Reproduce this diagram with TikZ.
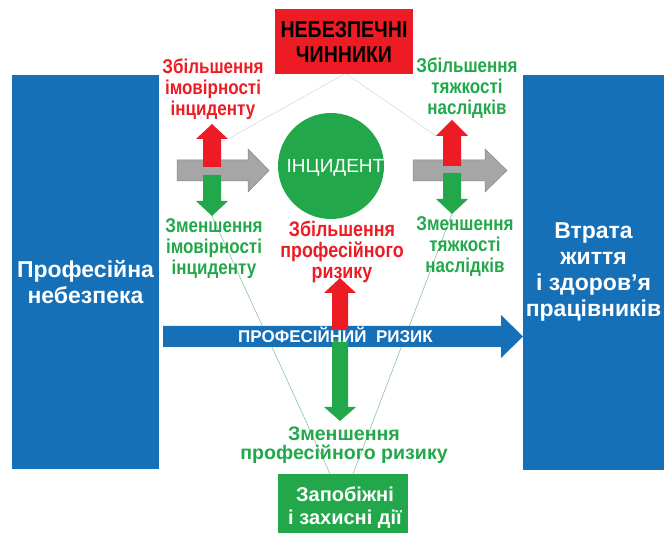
\documentclass[tikz,border=0pt]{standalone}
\usepackage{fontspec}
\setmainfont{Liberation Sans}
\newfontfamily\narrowfont{Liberation Sans}[FakeStretch=0.85]
\usetikzlibrary{positioning}

\definecolor{boxblue}{HTML}{1570B8}
\definecolor{hazred}{HTML}{ED1C24}
\definecolor{safegreen}{HTML}{22A84A}
\definecolor{arrowgray}{HTML}{A6A6A6}
\definecolor{guidegray}{HTML}{D9D9D9}
\definecolor{guidegreen}{HTML}{8CC3A2}

\begin{document}
\begin{tikzpicture}[x=1pt,y=-1pt,
  bluebox/.style={fill=boxblue,inner sep=0pt},
  boxtext/.style={text=white,align=center,inner sep=0pt,font=\bfseries\fontsize{23}{26}\selectfont},
  hazlabel/.style={text=hazred,align=center,inner sep=0pt,font=\narrowfont\bfseries\fontsize{20}{21}\selectfont},
  safelabel/.style={text=safegreen,align=center,inner sep=0pt,font=\narrowfont\bfseries\fontsize{20}{21}\selectfont}]
  \useasboundingbox (0,0) rectangle (670,534);

  % boxes
  \node[bluebox,minimum width=147pt,minimum height=394pt] (hazard) at (85.5,272) {};
  \node[boxtext] (hazardtext) at (85.5,282) {Професійна\\небезпека};
  \node[bluebox,minimum width=141pt,minimum height=395pt] (loss) at (593.5,272.5) {};
  \node[boxtext] (losstext) at (593.5,271.5) {Втрата\\життя\\і здоров’я\\працівників};
  \node[fill=hazred,minimum width=138pt,minimum height=65pt,inner sep=0pt,align=center,
        font=\narrowfont\bfseries\fontsize{23}{25}\selectfont] (factors) at (344,41.5) {НЕБЕЗПЕЧНІ\\ЧИННИКИ};
  \node[fill=safegreen,minimum width=130pt,minimum height=59pt,inner sep=0pt] (actions) at (343,503.5) {};
  \node[text=white,align=center,inner sep=0pt,font=\bfseries\fontsize{20}{23}\selectfont] (actionstext) at (345,507.5) {Запобіжні\\і захисні дії};
  \node[circle,fill=safegreen,minimum size=106pt,inner sep=0pt] (incident) at (331,166) {};
  \node[text=white,inner sep=0pt,font=\fontsize{19}{20}\selectfont] (incidenttext) at (335.5,168) {ІНЦИДЕНТ};

  % thin guide lines
  \coordinate (probup) at (228,139);
  \coordinate (sevup) at (436,136);
  \coordinate (probdown) at (212,216);
  \coordinate (sevdown) at (452,214);
  \draw[guidegray,line width=0.6pt] (factors.south) -- (probup);
  \draw[guidegray,line width=0.6pt] ([xshift=3pt]factors.south) -- (sevup);
  \draw[guidegreen,line width=0.6pt] (probdown) -- ([xshift=-13pt]actions.north);
  \draw[guidegreen,line width=0.6pt] (sevdown) -- ([xshift=10pt]actions.north);

  % gray arrows
  \filldraw[fill=arrowgray,draw=arrowgray!80!black,line width=0.5pt] (177,160) -- (248,160) -- (248,149) -- (269,170.5) -- (248,192) -- (248,181) -- (177,181) -- cycle;
  \filldraw[fill=arrowgray,draw=arrowgray!80!black,line width=0.5pt] (413,160) -- (485,160) -- (485,149) -- (507,170.5) -- (485,192) -- (485,181) -- (413,181) -- cycle;
  % up and down arrows
  \fill[hazred] (203,167) -- (203,139) -- (196,139) -- (212,124) -- (228,139) -- (221,139) -- (221,167) -- cycle;
  \fill[safegreen] (203,175) -- (203,201) -- (196,201) -- (212,216) -- (228,201) -- (221,201) -- (221,175) -- cycle;
  \fill[hazred] (443,166) -- (443,136) -- (436,136) -- (452,120) -- (468,136) -- (461,136) -- (461,166) -- cycle;
  \fill[safegreen] (443,173) -- (443,199) -- (436,199) -- (452,214) -- (468,199) -- (461,199) -- (461,173) -- cycle;

  % blue arrow
  \fill[boxblue] (163,326) -- (501,326) -- (501,315) -- (523,336.5) -- (501,358) -- (501,347) -- (163,347) -- cycle;
  \fill[hazred] (332,330) -- (332,293) -- (324,293) -- (340,278) -- (356,293) -- (348,293) -- (348,330) -- cycle;
  \fill[safegreen] (332,340) -- (332,407) -- (324,407) -- (340,421) -- (356,407) -- (348,407) -- (348,340) -- cycle;
  \node[anchor=base,text=white,inner sep=0pt,font=\bfseries\fontsize{17}{17}\selectfont] (risk) at (335.5,343) {ПРОФЕСІЙНИЙ\ \ РИЗИК};

  % labels
  \node[hazlabel] (moreprob) at (213,89) {Збільшення\\імовірності\\інциденту};
  \node[safelabel] (moresev) at (467,88.5) {Збільшення\\тяжкості\\наслідків};
  \node[safelabel] (lessprob) at (214,248.5) {Зменшення\\імовірності\\інциденту};
  \node[safelabel] (lesssev) at (465,246.5) {Зменшення\\тяжкості\\наслідків};
  \node[hazlabel,font=\narrowfont\bfseries\fontsize{21}{21}\selectfont] (morerisk) at (342,252) {Збільшення\\професійного\\ризику};
  \node[safelabel,font=\bfseries\fontsize{19.6}{19.5}\selectfont] (lessrisk) at (344,445) {Зменшення\\професійного ризику};
\end{tikzpicture}
\end{document}
